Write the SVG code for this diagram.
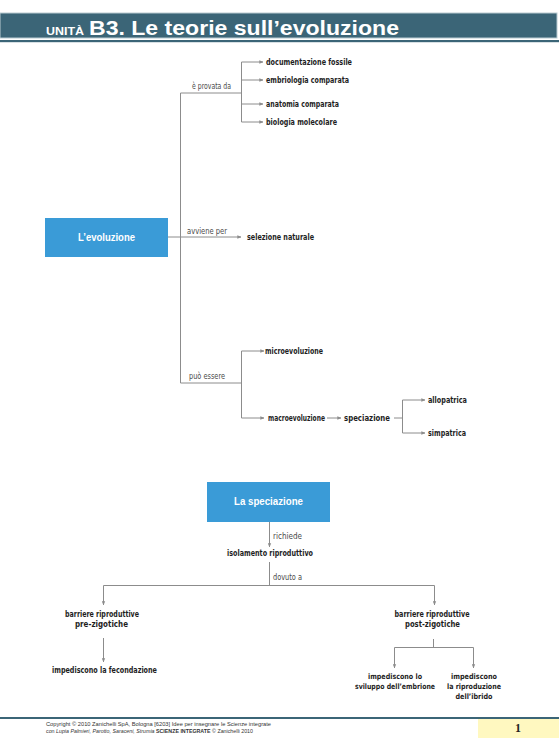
<svg xmlns="http://www.w3.org/2000/svg" width="559" height="755" viewBox="0 0 559 755">
<style>
.b{font-family:"DejaVu Sans Condensed","DejaVu Sans",sans-serif;font-weight:bold;font-size:8.5px;fill:#1e1e1e}
.s{font-size:7.5px}
.r{font-family:"DejaVu Sans Condensed","DejaVu Sans",sans-serif;font-size:8px;fill:#4a4a4a}
.w{font-family:"Liberation Sans",Arial,sans-serif;font-weight:bold;font-size:10px;fill:#ffffff}
.ln{fill:none;stroke:#8c8c8c;stroke-width:1}
.ar{fill:none;stroke:#8c8c8c;stroke-width:1;marker-end:url(#ah)}
.box{fill:#3a9bd7}
.ft{font-family:"Liberation Sans",Arial,sans-serif;font-size:5.5px;fill:#333}
</style>
<defs>
<marker id="ah" viewBox="0 0 6 6" refX="5.5" refY="3" markerWidth="4" markerHeight="4" orient="auto" markerUnits="userSpaceOnUse">
<path d="M0,0.5 L6,3 L0,5.5 z" fill="#8c8c8c"/>
</marker>
</defs>
<rect width="559" height="755" fill="#ffffff"/>
<g id="header">
<rect x="0" y="13" width="557" height="25" fill="#3b6577" stroke="#b9cbd2" stroke-width="1"/>
<rect x="0" y="40" width="559" height="2.2" fill="#3b6577"/>
<text x="46" y="35" font-family="Liberation Sans,Arial,sans-serif" font-weight="bold" font-size="11" fill="#ffffff" textLength="38" lengthAdjust="spacingAndGlyphs">UNITÀ</text>
<text x="89" y="35" font-family="Liberation Sans,Arial,sans-serif" font-weight="bold" font-size="20" fill="#ffffff" textLength="310" lengthAdjust="spacingAndGlyphs">B3. Le teorie sull’evoluzione</text>
</g>
<g id="connectors">
<path class="ln" d="M180.5,93 V383 M180.5,93 H241.5 M241.5,62 V122"/>
<path class="ar" d="M241.5,62 H263"/>
<path class="ar" d="M241.5,80 H263"/>
<path class="ar" d="M241.5,104 H263"/>
<path class="ar" d="M241.5,122 H263"/>
<path class="ar" d="M168,237 H241"/>
<path class="ln" d="M180.5,383 H241.5 M241.5,351 V418"/>
<path class="ar" d="M241.5,351 H264"/>
<path class="ar" d="M241.5,418 H264"/>
<path class="ar" d="M327,418 H341"/>
<path class="ln" d="M394,418 H402.5 M402.5,400 V433"/>
<path class="ar" d="M402.5,400 H425"/>
<path class="ar" d="M402.5,433 H425"/>
<path class="ar" d="M269.5,522 V547"/>
<path class="ln" d="M269.5,562 V585.5 M103.5,585.5 H434.5"/>
<path class="ar" d="M103.5,585.5 V605"/>
<path class="ar" d="M434.5,585.5 V605"/>
<path class="ar" d="M103.5,638 V662"/>
<path class="ln" d="M433.5,639 V647.5 M394.5,647.5 H473.5"/>
<path class="ar" d="M394.5,647.5 V668"/>
<path class="ar" d="M473.5,647.5 V668"/>
</g>
<g id="labels">
<text class="r" x="192" y="89" textLength="39" lengthAdjust="spacingAndGlyphs">è provata da</text>
<text class="r" x="187" y="234" textLength="40" lengthAdjust="spacingAndGlyphs">avviene per</text>
<text class="r" x="189" y="379" textLength="36" lengthAdjust="spacingAndGlyphs">può essere</text>
<text class="r" x="273" y="539" textLength="29" lengthAdjust="spacingAndGlyphs">richiede</text>
<text class="r" x="273" y="580" textLength="29" lengthAdjust="spacingAndGlyphs">dovuto a</text>
</g>
<g id="n-evoluzione">
<rect class="box" x="45" y="218" width="123" height="39"/>
<text class="w" x="106.5" y="241" text-anchor="middle" textLength="57" lengthAdjust="spacingAndGlyphs">L’evoluzione</text>
</g>
<g id="n-documentazione"><text class="b" x="266" y="65" textLength="86" lengthAdjust="spacingAndGlyphs">documentazione fossile</text></g>
<g id="n-embriologia"><text class="b" x="266" y="83" textLength="83" lengthAdjust="spacingAndGlyphs">embriologia comparata</text></g>
<g id="n-anatomia"><text class="b" x="266" y="107" textLength="73" lengthAdjust="spacingAndGlyphs">anatomia comparata</text></g>
<g id="n-biologia"><text class="b" x="266" y="125" textLength="71" lengthAdjust="spacingAndGlyphs">biologia molecolare</text></g>
<g id="n-selezione"><text class="b" x="247" y="240" textLength="67" lengthAdjust="spacingAndGlyphs">selezione naturale</text></g>
<g id="n-micro"><text class="b" x="265" y="354" textLength="58" lengthAdjust="spacingAndGlyphs">microevoluzione</text></g>
<g id="n-macro"><text class="b" x="268" y="421" textLength="57" lengthAdjust="spacingAndGlyphs">macroevoluzione</text></g>
<g id="n-speciazione1"><text class="b" x="344" y="421" textLength="46" lengthAdjust="spacingAndGlyphs">speciazione</text></g>
<g id="n-allopatrica"><text class="b" x="428" y="403" textLength="39" lengthAdjust="spacingAndGlyphs">allopatrica</text></g>
<g id="n-simpatrica"><text class="b" x="428" y="436" textLength="38" lengthAdjust="spacingAndGlyphs">simpatrica</text></g>
<g id="n-laspeciazione">
<rect class="box" x="207" y="482" width="123" height="40"/>
<text class="w" x="268.5" y="505" text-anchor="middle" textLength="69" lengthAdjust="spacingAndGlyphs">La speciazione</text>
</g>
<g id="n-isolamento"><text class="b" x="270" y="556" text-anchor="middle" textLength="86" lengthAdjust="spacingAndGlyphs">isolamento riproduttivo</text></g>
<g id="n-pre">
<text class="b" x="102" y="617" text-anchor="middle" textLength="74" lengthAdjust="spacingAndGlyphs">barriere riproduttive</text>
<text class="b" x="101.5" y="627" text-anchor="middle" textLength="53" lengthAdjust="spacingAndGlyphs">pre-zigotiche</text>
</g>
<g id="n-post">
<text class="b" x="432" y="617" text-anchor="middle" textLength="75" lengthAdjust="spacingAndGlyphs">barriere riproduttive</text>
<text class="b" x="432.5" y="627" text-anchor="middle" textLength="55" lengthAdjust="spacingAndGlyphs">post-zigotiche</text>
</g>
<g id="n-fecondazione"><text class="b" x="104.5" y="673" text-anchor="middle" textLength="105" lengthAdjust="spacingAndGlyphs">impediscono la fecondazione</text></g>
<g id="n-embrione">
<text class="b s" x="395" y="679" text-anchor="middle" textLength="54" lengthAdjust="spacingAndGlyphs">impediscono lo</text>
<text class="b s" x="395" y="689" text-anchor="middle" textLength="80" lengthAdjust="spacingAndGlyphs">sviluppo dell’embrione</text>
</g>
<g id="n-ibrido">
<text class="b s" x="474" y="679" text-anchor="middle" textLength="46" lengthAdjust="spacingAndGlyphs">impediscono</text>
<text class="b s" x="474" y="689" text-anchor="middle" textLength="54" lengthAdjust="spacingAndGlyphs">la riproduzione</text>
<text class="b s" x="474" y="699" text-anchor="middle" textLength="37" lengthAdjust="spacingAndGlyphs">dell’ibrido</text>
</g>
<g id="footer">
<rect x="0" y="717" width="559" height="2" fill="#3b6577"/>
<rect x="478" y="719" width="81" height="19" fill="#fff8c0"/>
<text x="518" y="732" text-anchor="middle" font-family="Liberation Serif,serif" font-weight="bold" font-size="12" fill="#222">1</text>
<text class="ft" x="46" y="726" textLength="225" lengthAdjust="spacingAndGlyphs">Copyright © 2010 Zanichelli SpA, Bologna [6203] Idee per insegnare le Scienze integrate</text>
<text class="ft" x="46" y="733" textLength="207" lengthAdjust="spacingAndGlyphs">con <tspan font-style="italic">Lupia Palmieri, Parotto, Saraceni, Strumia</tspan> <tspan font-weight="bold">SCIENZE INTEGRATE</tspan> © Zanichelli 2010</text>
</g>
</svg>
